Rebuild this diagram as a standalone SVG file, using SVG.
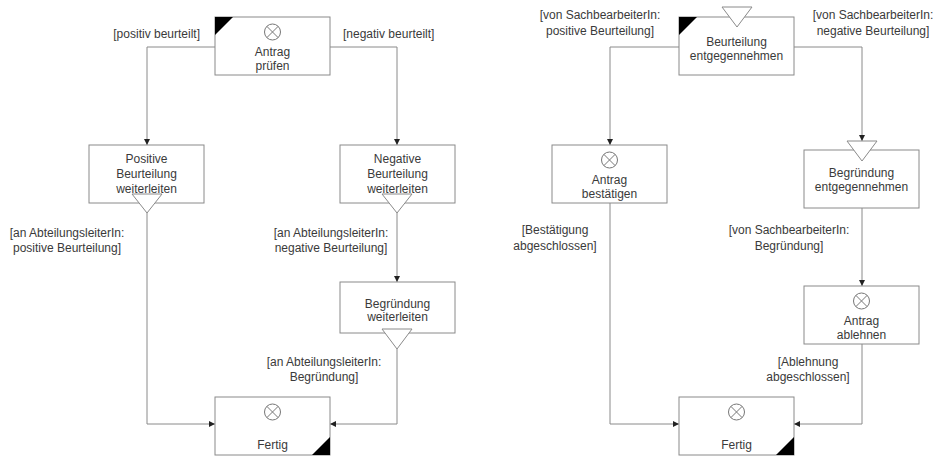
<svg xmlns="http://www.w3.org/2000/svg" width="938" height="457" viewBox="0 0 938 457">
<style>
.box{fill:#fff;stroke:#8a8a8a;stroke-width:1}
.tri{fill:#fff;stroke:#8a8a8a;stroke-width:1}
.corner{fill:#000;stroke:none}
.ev{fill:none;stroke:#777;stroke-width:1}
.t{font-family:"Liberation Sans",Arial,sans-serif;font-size:12px;fill:#3a3a3a;text-anchor:middle}
.l{font-family:"Liberation Sans",Arial,sans-serif;font-size:12px;fill:#3a3a3a;text-anchor:middle}
.conn path{fill:none;stroke:#8a8a8a;stroke-width:1;marker-end:url(#arr)}
</style>
<defs>
<marker id="arr" viewBox="0 0 10 10" refX="10" refY="5" markerWidth="6" markerHeight="6" markerUnits="userSpaceOnUse" orient="auto">
<path d="M0,0 L10,5 L0,10 z" fill="#222"/>
</marker>
<g id="xc">
<circle cx="0" cy="0" r="8" class="ev"/>
<path d="M-5.6,-5.6 L5.6,5.6 M5.6,-5.6 L-5.6,5.6" class="ev"/>
</g>
</defs>

<g class="conn">
<path d="M215,47 H147 V145"/>
<path d="M330,47 H397 V145"/>
<path d="M147,213 V424 H215"/>
<path d="M397,213 V282"/>
<path d="M397,349 V424 H330"/>
<path d="M679,47 H610 V145"/>
<path d="M794,47 H862 V141"/>
<path d="M610,203 V424 H679"/>
<path d="M862,208 V286"/>
<path d="M862,344 V424 H794"/>
</g>

<g id="labels">
<text class="l" x="200" y="38" text-anchor="end" style="text-anchor:end">[positiv beurteilt]</text>
<text class="l" x="343" y="38" style="text-anchor:start">[negativ beurteilt]</text>
<text class="l" x="67" y="237">[an AbteilungsleiterIn:</text>
<text class="l" x="67" y="252">positive Beurteilung]</text>
<text class="l" x="331" y="237">[an AbteilungsleiterIn:</text>
<text class="l" x="331" y="252">negative Beurteilung]</text>
<text class="l" x="324" y="366">[an AbteilungsleiterIn:</text>
<text class="l" x="324" y="381">Begründung]</text>
<text class="l" x="600" y="19">[von SachbearbeiterIn:</text>
<text class="l" x="600" y="35">positive Beurteilung]</text>
<text class="l" x="873" y="19">[von SachbearbeiterIn:</text>
<text class="l" x="873" y="35">negative Beurteilung]</text>
<text class="l" x="555" y="234">[Bestätigung</text>
<text class="l" x="555" y="250">abgeschlossen]</text>
<text class="l" x="789" y="234">[von SachbearbeiterIn:</text>
<text class="l" x="789" y="250">Begründung]</text>
<text class="l" x="808" y="366">[Ablehnung</text>
<text class="l" x="808" y="381">abgeschlossen]</text>
</g>

<g id="antrag-pruefen">
<rect class="box" x="215" y="17" width="115" height="58"/>
<path class="corner" d="M215,17 H233 L215,35 z"/>
<use href="#xc" x="272.5" y="32"/>
<text class="t" x="272.5" y="56">Antrag</text>
<text class="t" x="272.5" y="70">prüfen</text>
</g>

<g id="positive-weiterleiten">
<rect class="box" x="89" y="145" width="115" height="58"/>
<path class="tri" d="M132,194 H162 L147,213 z"/>
<text class="t" x="146.5" y="163">Positive</text>
<text class="t" x="146.5" y="178">Beurteilung</text>
<text class="t" x="146.5" y="193">weiterleiten</text>
</g>

<g id="negative-weiterleiten">
<rect class="box" x="340" y="145" width="115" height="58"/>
<path class="tri" d="M382,194 H412 L397,213 z"/>
<text class="t" x="397.5" y="163">Negative</text>
<text class="t" x="397.5" y="178">Beurteilung</text>
<text class="t" x="397.5" y="193">weiterleiten</text>
</g>

<g id="begruendung-weiterleiten">
<rect class="box" x="340" y="282" width="115" height="51"/>
<path class="tri" d="M382,329 H412 L397,349 z"/>
<text class="t" x="397.5" y="308">Begründung</text>
<text class="t" x="397.5" y="321">weiterleiten</text>
</g>

<g id="fertig-links">
<rect class="box" x="215" y="397" width="115" height="58"/>
<path class="corner" d="M330,455 H312 L330,437 z"/>
<use href="#xc" x="272.5" y="412"/>
<text class="t" x="272.5" y="449">Fertig</text>
</g>

<g id="beurteilung-entgegennehmen">
<rect class="box" x="679" y="17" width="115" height="58"/>
<path class="corner" d="M679,17 H697 L679,35 z"/>
<path class="tri" d="M722,7 H752 L737,27 z"/>
<text class="t" x="736.5" y="46">Beurteilung</text>
<text class="t" x="736.5" y="60">entgegennehmen</text>
</g>

<g id="antrag-bestaetigen">
<rect class="box" x="552" y="145" width="115" height="58"/>
<use href="#xc" x="609.5" y="160"/>
<text class="t" x="609.5" y="184">Antrag</text>
<text class="t" x="609.5" y="198">bestätigen</text>
</g>

<g id="begruendung-entgegennehmen">
<rect class="box" x="804" y="150" width="115" height="58"/>
<path class="tri" d="M847,141 H877 L862,161 z"/>
<text class="t" x="861.5" y="177">Begründung</text>
<text class="t" x="861.5" y="191">entgegennehmen</text>
</g>

<g id="antrag-ablehnen">
<rect class="box" x="804" y="286" width="115" height="58"/>
<use href="#xc" x="861.5" y="301"/>
<text class="t" x="861.5" y="325">Antrag</text>
<text class="t" x="861.5" y="339">ablehnen</text>
</g>

<g id="fertig-rechts">
<rect class="box" x="679" y="397" width="115" height="58"/>
<path class="corner" d="M794,455 H776 L794,437 z"/>
<use href="#xc" x="736.5" y="412"/>
<text class="t" x="736.5" y="449">Fertig</text>
</g>
</svg>
